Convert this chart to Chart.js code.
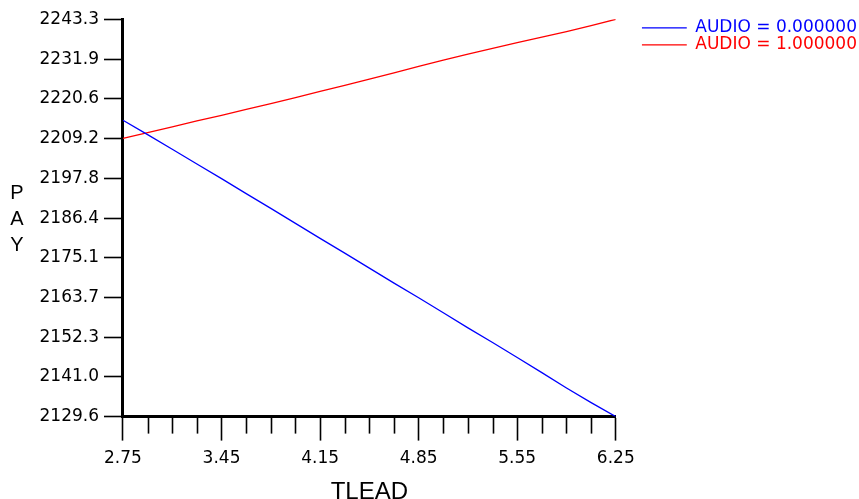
<!DOCTYPE html>
<html>
<head>
<meta charset="utf-8">
<title>PAY by TLEAD</title>
<script src="https://cdn.jsdelivr.net/npm/chart.js@4.4.1/dist/chart.umd.min.js"></script>
<style>
  html, body { margin: 0; padding: 0; background: #fff; }
  #chart { display: block; }
</style>
</head>
<body>
<canvas id="chart" width="859" height="499"></canvas>
<script>
// TLEAD positions where the fitted lines were sampled (also the minor ticks)
const tleadValues = [2.75, 2.925, 3.10, 3.275, 3.45, 3.625, 3.80, 3.975, 4.15, 4.325, 4.50,
                     4.675, 4.85, 5.025, 5.20, 5.375, 5.55, 5.725, 5.90, 6.075, 6.25];
const payAudio0 = [2214.4, 2210.3, 2206.1, 2201.9, 2197.7, 2193.4, 2189.2, 2184.9, 2180.6, 2176.4, 2172.1,
                   2167.8, 2163.6, 2159.3, 2155.0, 2150.8, 2146.5, 2142.2, 2137.8, 2133.6, 2129.6];
const payAudio1 = [2209.2, 2210.9, 2212.5, 2214.2, 2215.8, 2217.5, 2219.2, 2220.9, 2222.7, 2224.4, 2226.2,
                   2228.0, 2229.8, 2231.6, 2233.3, 2235.0, 2236.6, 2238.2, 2239.8, 2241.5, 2243.3];
const seriesNames = ['AUDIO = 0.000000', 'AUDIO = 1.000000'];
const seriesColors = ['#0000ff', '#ff0000'];
const tleadTicks = [2.75, 3.45, 4.15, 4.85, 5.55, 6.25];
const payTicks = [2129.6, 2141.0, 2152.3, 2163.7, 2175.1, 2186.4, 2197.8, 2209.2, 2220.6, 2231.9, 2243.3];
const xTitle = 'TLEAD';
const yTitle = ['P', 'A', 'Y'];

const isMajor = v => tleadTicks.some(t => Math.abs(t - v) < 1e-6);

Chart.defaults.font.family = '"DejaVu Sans", sans-serif';
Chart.defaults.font.size = 17;
Chart.defaults.color = '#000';

// short ticks between the labelled ones
const minorTicks = {
    id: 'minorTicks',
    afterDraw(chart) {
        const scale = chart.scales.x;
        const ctx = chart.ctx;
        ctx.save();
        ctx.strokeStyle = '#000';
        ctx.lineWidth = 1.6;
        scale.ticks.forEach(t => {
            if (isMajor(t.value)) return;
            const px = Math.round(scale.getPixelForValue(t.value)) + 0.5;
            ctx.beginPath();
            ctx.moveTo(px, scale.top);
            ctx.lineTo(px, scale.top + 17);
            ctx.stroke();
        });
        ctx.restore();
    }
};

// stacked, upright y title
const stackedTitle = {
    id: 'stackedTitle',
    afterDraw(chart) {
        const ctx = chart.ctx;
        const area = chart.chartArea;
        const mid = (area.top + area.bottom) / 2 + 2;
        ctx.save();
        ctx.font = '20px "Liberation Sans", Arial, sans-serif';
        ctx.fillStyle = '#000';
        ctx.textAlign = 'center';
        ctx.textBaseline = 'middle';
        yTitle.forEach((ch, i) => {
            ctx.fillText(ch, 17, mid + (i - 1) * 26);
        });
        ctx.restore();
    }
};

const datasets = seriesNames.map((name, i) => ({
    label: name,
    data: tleadValues.map((x, j) => ({ x: x, y: [payAudio0, payAudio1][i][j] })),
    borderColor: seriesColors[i],
    backgroundColor: seriesColors[i],
    borderWidth: 1.3,
    pointRadius: 0,
    tension: 0
}));

new Chart(document.getElementById('chart').getContext('2d'), {
    type: 'line',
    data: { datasets: datasets },
    options: {
        responsive: false,
        animation: false,
        events: [],
        layout: { padding: { left: 34.5, top: 19.3, right: -8, bottom: -7.6 } },
        scales: {
            x: {
                type: 'linear',
                min: 2.75,
                max: 6.25,
                afterBuildTicks: scale => {
                    scale.ticks = tleadValues.map(v => ({ value: v }));
                },
                ticks: {
                    autoSkip: false,
                    maxRotation: 0,
                    padding: 7.4,
                    callback: v => isMajor(v) ? v.toFixed(2) : ''
                },
                grid: {
                    drawOnChartArea: false,
                    tickLength: 24,
                    tickWidth: 1.6,
                    tickColor: ctx => (ctx.tick && isMajor(ctx.tick.value)) ? '#000' : 'rgba(0,0,0,0)'
                },
                border: { color: '#000', width: 3 },
                title: {
                    display: true,
                    text: xTitle,
                    font: { family: '"Liberation Sans", Arial, sans-serif', size: 24 },
                    padding: { top: 2, bottom: 0 }
                }
            },
            y: {
                type: 'linear',
                min: payTicks[0],
                max: payTicks[payTicks.length - 1],
                afterBuildTicks: scale => {
                    scale.ticks = payTicks.map(v => ({ value: v }));
                },
                ticks: {
                    padding: 5,
                    callback: v => v.toFixed(1)
                },
                grid: {
                    drawOnChartArea: false,
                    tickLength: 19,
                    tickWidth: 1.6,
                    tickColor: '#000'
                },
                border: { color: '#000', width: 3 }
            },
            gap: {
                type: 'linear',
                axis: 'y',
                position: 'right',
                grid: { display: false },
                ticks: { display: false },
                border: { display: false },
                afterFit: scale => { scale.width = 26; }
            }
        },
        plugins: {
            legend: {
                position: 'right',
                align: 'start',
                fullSize: false,
                maxWidth: 400,
                labels: {
                    boxWidth: 45,
                    boxHeight: 0,
                    padding: 0,
                    font: { size: 17 },
                    generateLabels: chart => {
                        const items = Chart.defaults.plugins.legend.labels.generateLabels(chart);
                        items.forEach(it => { it.fontColor = it.strokeStyle; });
                        return items;
                    }
                }
            },
            tooltip: { enabled: false }
        }
    },
    plugins: [minorTicks, stackedTitle]
});
</script>
</body>
</html>
